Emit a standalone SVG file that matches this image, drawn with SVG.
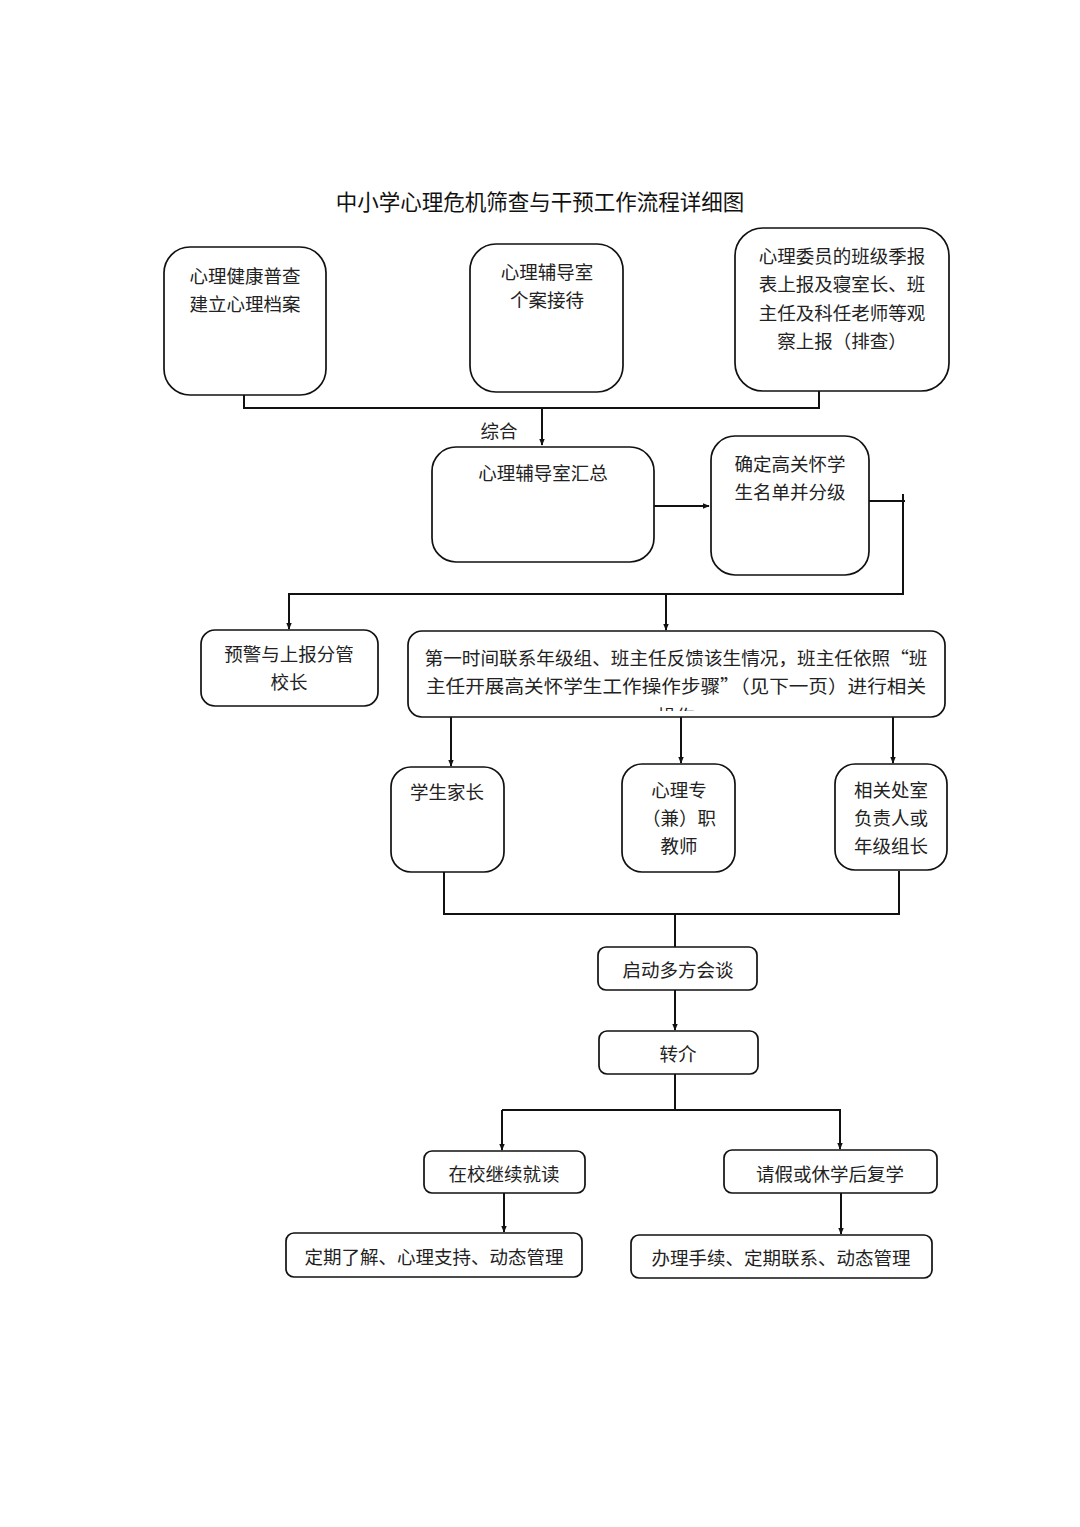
<svg xmlns="http://www.w3.org/2000/svg" width="1080" height="1527" viewBox="0 0 1080 1527">
<style>
.box{fill:#fff;stroke:#111;stroke-width:1.7}
.t{font-family:"Noto Sans CJK SC","Noto Sans",sans-serif;font-size:18.5px;fill:#222;text-anchor:middle}
.ttl{font-family:"Noto Sans CJK SC","Noto Sans",sans-serif;font-size:21.5px;fill:#111;text-anchor:middle}
.c{fill:none;stroke:#111;stroke-width:2}
</style>
<defs>
<marker id="ah" viewBox="0 0 10 10" refX="9" refY="5" markerWidth="7" markerHeight="7" markerUnits="userSpaceOnUse" orient="auto">
<path d="M0,1 L10,5 L0,9 z" fill="#111"/>
</marker>
<clipPath id="bigclip"><rect x="410" y="632" width="533" height="79"/></clipPath>
</defs>
<rect width="1080" height="1527" fill="#fff"/>
<text class="ttl" x="540" y="210">中小学心理危机筛查与干预工作流程详细图</text>

<g id="n1"><rect class="box" x="164" y="247" width="162" height="148" rx="26"/>
<text class="t" x="245" y="283">心理健康普查</text><text class="t" x="245" y="311">建立心理档案</text></g>
<g id="n2"><rect class="box" x="470" y="244" width="153" height="148" rx="26"/>
<text class="t" x="547" y="279">心理辅导室</text><text class="t" x="547" y="307">个案接待</text></g>
<g id="n3"><rect class="box" x="735" y="228" width="214" height="163" rx="28"/>
<text class="t" x="842" y="263">心理委员的班级季报</text><text class="t" x="842" y="291">表上报及寝室长、班</text><text class="t" x="842" y="320">主任及科任老师等观</text><text class="t" x="842" y="348">察上报（排查）</text></g>
<g id="n4"><rect class="box" x="432" y="447" width="222" height="115" rx="24"/>
<text class="t" x="543" y="480">心理辅导室汇总</text></g>
<g id="n5"><rect class="box" x="711" y="436" width="158" height="139" rx="24"/>
<text class="t" x="790" y="471">确定高关怀学</text><text class="t" x="790" y="499">生名单并分级</text></g>
<g id="n6"><rect class="box" x="201" y="630" width="177" height="76" rx="14"/>
<text class="t" x="289" y="661">预警与上报分管</text><text class="t" x="289" y="689">校长</text></g>
<g id="n7"><rect class="box" x="408" y="631" width="537" height="86" rx="14"/>
<g clip-path="url(#bigclip)">
<text class="t" x="676" y="665" textLength="503" lengthAdjust="spacingAndGlyphs">第一时间联系年级组、班主任反馈该生情况，班主任依照“班</text>
<text class="t" x="676" y="693" textLength="500" lengthAdjust="spacingAndGlyphs">主任开展高关怀学生工作操作步骤”（见下一页）进行相关</text>
<text class="t" x="676" y="723">操作</text></g></g>
<g id="n8"><rect class="box" x="391" y="767" width="113" height="105" rx="20"/>
<text class="t" x="447" y="799">学生家长</text></g>
<g id="n9"><rect class="box" x="622" y="764" width="113" height="108" rx="20"/>
<text class="t" x="679" y="797">心理专</text><text class="t" x="679" y="825">（兼）职</text><text class="t" x="679" y="853">教师</text></g>
<g id="n10"><rect class="box" x="835" y="764" width="112" height="106" rx="20"/>
<text class="t" x="891" y="797">相关处室</text><text class="t" x="891" y="825">负责人或</text><text class="t" x="891" y="853">年级组长</text></g>
<g id="n11"><rect class="box" x="598" y="947" width="159" height="43" rx="8"/>
<text class="t" x="678" y="977">启动多方会谈</text></g>
<g id="n12"><rect class="box" x="599" y="1031" width="159" height="43" rx="8"/>
<text class="t" x="678" y="1061">转介</text></g>
<g id="n13"><rect class="box" x="424" y="1151" width="161" height="42" rx="8"/>
<text class="t" x="504" y="1181">在校继续就读</text></g>
<g id="n14"><rect class="box" x="724" y="1150" width="213" height="43" rx="8"/>
<text class="t" x="830" y="1181">请假或休学后复学</text></g>
<g id="n15"><rect class="box" x="286" y="1233" width="296" height="44" rx="8"/>
<text class="t" x="434" y="1264">定期了解、心理支持、动态管理</text></g>
<g id="n16"><rect class="box" x="631" y="1235" width="301" height="43" rx="8"/>
<text class="t" x="781" y="1265">办理手续、定期联系、动态管理</text></g>

<g id="connectors">
<path class="c" d="M244,395 V408 H819 V391"/>
<path class="c" d="M542,408 V445" marker-end="url(#ah)"/>
<text class="t" x="499" y="438">综合</text>
<path class="c" d="M654,506 H709" marker-end="url(#ah)"/>
<path class="c" d="M869,501 H905"/>
<path class="c" d="M903,494 V594 H289 V629" marker-end="url(#ah)"/>
<path class="c" d="M666,594 V630" marker-end="url(#ah)"/>
<path class="c" d="M451,717 V766" marker-end="url(#ah)"/>
<path class="c" d="M681,717 V763" marker-end="url(#ah)"/>
<path class="c" d="M893,717 V763" marker-end="url(#ah)"/>
<path class="c" d="M444,872 V914 H900"/>
<path class="c" d="M899,871 V914"/>
<path class="c" d="M675,914 V947"/>
<path class="c" d="M675,990 V1030" marker-end="url(#ah)"/>
<path class="c" d="M675,1074 V1110"/>
<path class="c" d="M502,1110 H840 V1149" marker-end="url(#ah)"/>
<path class="c" d="M502,1110 V1150" marker-end="url(#ah)"/>
<path class="c" d="M504,1193 V1232" marker-end="url(#ah)"/>
<path class="c" d="M841,1193 V1234" marker-end="url(#ah)"/>
</g>
</svg>
